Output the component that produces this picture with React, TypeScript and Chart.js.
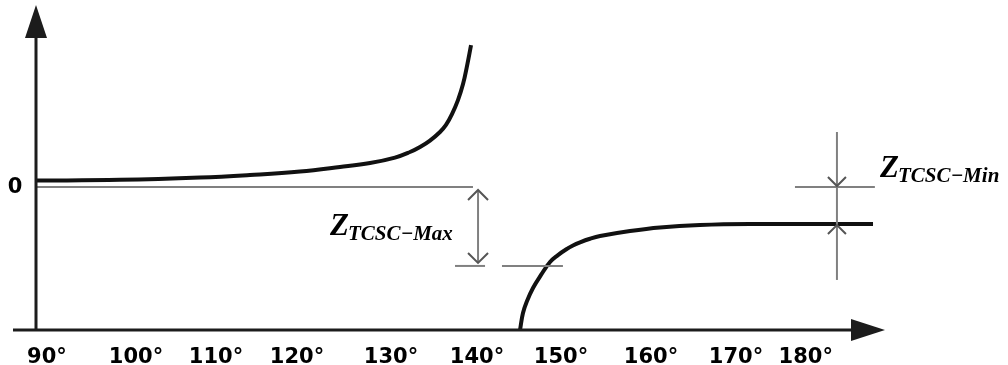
import React, { useEffect, useRef } from "react";
import { Chart, registerables } from "chart.js";

Chart.register(...registerables);

// x axis (firing angle, degrees) – tick labels and where they sit on the schematic axis
const tickLabels = ["90°", "100°", "110°", "120°", "130°", "140°", "150°", "160°", "170°", "180°"];
const tickAt = [90, 100.56, 110.05, 119.66, 130.81, 141.01, 150.97, 161.65, 171.73, 180.0];

// inductive branch (left of resonance)
const leftDeg = [88.7, 98.66, 108.15, 114.08, 120.01, 124.76, 128.32, 131.28, 133.06, 134.25, 135.43, 136.62, 137.33, 138.04, 138.75, 139.35, 139.82, 140.3];
const leftZ = [0.45, 0.5, 0.66, 0.84, 1.08, 1.4, 1.68, 2.06, 2.45, 2.8, 3.25, 3.85, 4.34, 5.1, 6.08, 7.2, 8.46, 9.93];

// capacitive branch (right of resonance)
const rightDeg = [146.11, 146.46, 146.94, 147.65, 148.6, 149.67, 150.61, 151.56, 152.39, 153.23, 154.41, 155.6, 159.16, 162.71, 167.46, 173.39, 187.98];
const rightZ = [-10, -8.81, -7.97, -7.06, -6.15, -5.24, -4.76, -4.37, -4.09, -3.87, -3.62, -3.43, -3.08, -2.83, -2.66, -2.59, -2.59];

// annotation values (data units)
const zeroLine = [88.7, 140.53];
const zMaxX = 141.13;
const zMaxTip = -5.31;
const lowerRef = -5.52;
const lowerRefSegA = [138.4, 141.96];
const lowerRefSegB = [143.97, 151.2];
const zMinX = 183.7;
const zMinSpan = [3.85, -6.5];
const zMinRef = [178.72, 188.2];
const plateau = -2.59;
const zMaxLabelAt = [123.57, -3.36];
const zMinLabelAt = [188.8, 0.7];

export default function App() {
  const ref = useRef<HTMLCanvasElement>(null);

  useEffect(() => {
    if (!ref.current) return;
    const schematic = {
      id: "schematic",
      afterDatasetsDraw(chart: any) {
        const ctx = chart.ctx as CanvasRenderingContext2D;
        const xs = chart.scales.x;
        const ys = chart.scales.y;
        const X = (v: number) => xs.getPixelForValue(v);
        const Y = (v: number) => ys.getPixelForValue(v);
        const area = chart.chartArea;
        ctx.save();
        ctx.lineCap = "butt";

        // gray reference lines
        ctx.strokeStyle = "#808080";
        ctx.lineWidth = 2;
        const seg = (x1: number, y1: number, x2: number, y2: number) => {
          ctx.beginPath();
          ctx.moveTo(x1, y1);
          ctx.lineTo(x2, y2);
          ctx.stroke();
        };
        seg(X(zeroLine[0]), Y(0), X(zeroLine[1]), Y(0));
        seg(X(lowerRefSegA[0]), Y(lowerRef), X(lowerRefSegA[1]), Y(lowerRef));
        seg(X(lowerRefSegB[0]), Y(lowerRef), X(lowerRefSegB[1]), Y(lowerRef));
        seg(X(zMinRef[0]), Y(0), X(zMinRef[1]), Y(0));

        // Zmax double arrow
        const ax = X(zMaxX);
        const top = Y(0) + 3;
        const bot = Y(zMaxTip);
        seg(ax, top, ax, bot);
        ctx.strokeStyle = "#555";
        ctx.lineWidth = 2;
        const chevron = (x: number, y: number, dir: number) => {
          ctx.beginPath();
          ctx.moveTo(x - 10, y + dir * 10);
          ctx.lineTo(x, y);
          ctx.lineTo(x + 10, y + dir * 10);
          ctx.stroke();
        };
        chevron(ax, top, 1);
        chevron(ax, bot, -1);

        // Zmin arrows
        const mx = X(zMinX);
        ctx.strokeStyle = "#808080";
        seg(mx, Y(zMinSpan[0]), mx, Y(zMinSpan[1]));
        ctx.strokeStyle = "#555";
        ctx.beginPath();
        ctx.moveTo(mx - 9, Y(0) - 10);
        ctx.lineTo(mx, Y(0) - 1);
        ctx.lineTo(mx + 9, Y(0) - 10);
        ctx.stroke();
        ctx.beginPath();
        ctx.moveTo(mx - 9, Y(plateau) + 10);
        ctx.lineTo(mx, Y(plateau) + 1);
        ctx.lineTo(mx + 9, Y(plateau) + 10);
        ctx.stroke();

        // axes with arrow heads
        ctx.strokeStyle = "#1c1c1c";
        ctx.fillStyle = "#1c1c1c";
        ctx.lineWidth = 3;
        const ox = area.left;
        const oy = area.bottom;
        seg(ox, oy + 1, ox, 36);
        ctx.beginPath();
        ctx.moveTo(ox, 5);
        ctx.lineTo(ox - 11, 38);
        ctx.lineTo(ox + 11, 38);
        ctx.closePath();
        ctx.fill();
        seg(13, oy, 855, oy);
        ctx.beginPath();
        ctx.moveTo(885, oy);
        ctx.lineTo(851, oy - 11);
        ctx.lineTo(851, oy + 11);
        ctx.closePath();
        ctx.fill();

        // "0" label
        ctx.fillStyle = "#000";
        ctx.font = 'bold 21px "DejaVu Sans"';
        ctx.textAlign = "center";
        ctx.textBaseline = "middle";
        ctx.fillText("0", 15, Y(0) + 1);

        // Z labels
        ctx.textAlign = "left";
        ctx.textBaseline = "alphabetic";
        const zLabel = (x: number, y: number, sub: string) => {
          ctx.font = 'bold italic 31px "Liberation Serif"';
          ctx.fillText("Z", x, y);
          const w = ctx.measureText("Z").width;
          ctx.font = 'bold italic 21px "Liberation Serif"';
          ctx.fillText(sub, x + w - 1, y + 5);
        };
        zLabel(X(zMaxLabelAt[0]), Y(zMaxLabelAt[1]), "TCSC\u2212Max");
        zLabel(X(zMinLabelAt[0]), Y(zMinLabelAt[1]), "TCSC\u2212Min");
        ctx.restore();
      },
    };

    const curve = {
      borderColor: "#111",
      borderWidth: 4,
      pointRadius: 0,
      fill: false,
      tension: 0.4,
    };

    const chart = new Chart(ref.current, {
      type: "line",
      data: {
        datasets: [
          { ...curve, data: leftDeg.map((x, i) => ({ x, y: leftZ[i] })) },
          { ...curve, data: rightDeg.map((x, i) => ({ x, y: rightZ[i] })) },
        ],
      },
      options: {
        responsive: false,
        maintainAspectRatio: false,
        devicePixelRatio: 1,
        animation: false,
        layout: { padding: { left: 36, right: 123, top: 5, bottom: 0 } },
        plugins: { legend: { display: false }, tooltip: { enabled: false } },
        scales: {
          x: {
            type: "linear",
            min: 88.7,
            max: 189.4,
            grid: { display: false },
            border: { display: false },
            afterBuildTicks: (scale: any) => {
              scale.ticks = tickAt.map((v) => ({ value: v }));
            },
            afterFit: (scale: any) => {
              scale.height = 35;
            },
            ticks: {
              autoSkip: false,
              maxRotation: 0,
              minRotation: 0,
              padding: 7,
              color: "#000",
              font: { family: "DejaVu Sans", size: 21, weight: "bold" },
              callback: (_v: any, i: number) => tickLabels[i],
            },
          },
          y: { type: "linear", display: false, min: -10, max: 12.73 },
        },
      },
      plugins: [schematic],
    });
    return () => chart.destroy();
  }, []);

  return (
    <div style={{ position: "fixed", left: 0, top: 0, width: 1008, height: 365, background: "#fff" }}>
      <canvas ref={ref} width={1008} height={365} style={{ display: "block" }} />
    </div>
  );
}
